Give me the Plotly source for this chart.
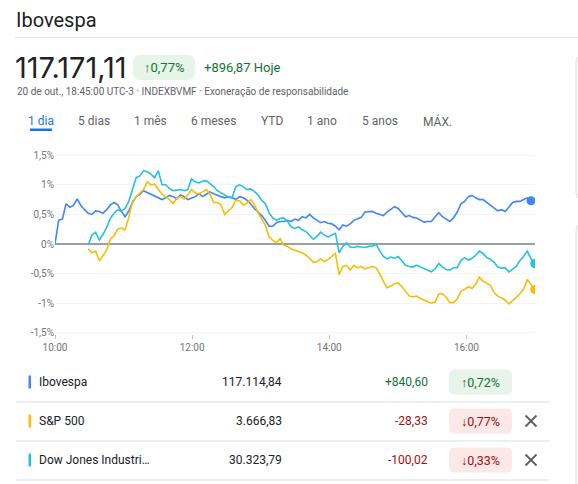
import pandas as pd
import plotly.graph_objects as go

# intraday % change, 20 Oct 2020 (about every 3 min)
times = pd.date_range("2020-10-20 10:00", "2020-10-20 16:59:45", periods=131)

ibov = [0.00, 0.40, 0.42, 0.68, 0.62, 0.65, 0.76, 0.65, 0.58, 0.52,
        0.50, 0.56, 0.55, 0.52, 0.58, 0.66, 0.70, 0.66, 0.55, 0.46,
        0.56, 0.70, 0.80, 0.84, 0.90, 0.87, 0.84, 0.80, 0.78, 0.75,
        0.78, 0.82, 0.80, 0.76, 0.83, 0.80, 0.75, 0.78, 0.80, 0.85,
        0.80, 0.84, 0.88, 0.85, 0.82, 0.80, 0.78, 0.80, 0.78, 0.75,
        0.80, 0.78, 0.74, 0.68, 0.60, 0.54, 0.48, 0.40, 0.30, 0.30,
        0.36, 0.38, 0.38, 0.40, 0.38, 0.42, 0.40, 0.46, 0.44, 0.50,
        0.44, 0.40, 0.36, 0.38, 0.35, 0.34, 0.30, 0.24, 0.32, 0.30,
        0.34, 0.40, 0.42, 0.45, 0.54, 0.54, 0.55, 0.52, 0.50, 0.48,
        0.54, 0.58, 0.63, 0.60, 0.52, 0.46, 0.48, 0.45, 0.44, 0.41,
        0.37, 0.38, 0.38, 0.46, 0.53, 0.46, 0.42, 0.38, 0.44, 0.54,
        0.68, 0.72, 0.80, 0.82, 0.78, 0.75, 0.75, 0.70, 0.66, 0.60,
        0.56, 0.58, 0.55, 0.62, 0.70, 0.72, 0.72, 0.75, 0.78, 0.73]

# US indices start at 10:30 local time
us_start = 9

sp500 = [-0.08, -0.15, -0.12, -0.28, -0.20, -0.10, 0.08, 0.14, 0.25, 0.27,
         0.24, 0.45, 0.72, 0.80, 0.86, 0.92, 1.05, 1.00, 1.01, 0.92,
         0.84, 0.80, 0.75, 0.68, 0.77, 0.80, 0.76, 0.83, 0.92, 0.86,
         0.85, 0.88, 0.92, 0.84, 0.70, 0.70, 0.66, 0.50, 0.56, 0.62,
         0.74, 0.73, 0.66, 0.69, 0.75, 0.67, 0.53, 0.42, 0.32, 0.12,
         0.06, 0.02, 0.09, -0.02, -0.04, -0.08, -0.10, -0.12, -0.15, -0.19,
         -0.24, -0.31, -0.30, -0.25, -0.30, -0.26, -0.21, -0.16, -0.52, -0.38,
         -0.36, -0.44, -0.36, -0.40, -0.38, -0.42, -0.40, -0.38, -0.40, -0.50,
         -0.63, -0.74, -0.71, -0.67, -0.66, -0.72, -0.80, -0.88, -0.89, -0.88,
         -0.92, -0.95, -0.98, -1.00, -0.98, -0.84, -0.84, -0.90, -0.99, -0.99,
         -0.93, -0.80, -0.77, -0.72, -0.75, -0.68, -0.56, -0.63, -0.66, -0.70,
         -0.82, -0.88, -0.91, -0.95, -1.01, -0.96, -0.90, -0.84, -0.76, -0.60,
         -0.68, -0.77]

dow = [-0.02, 0.15, 0.20, 0.07, 0.16, 0.28, 0.43, 0.52, 0.58, 0.55,
       0.60, 0.72, 0.92, 1.12, 1.15, 1.24, 1.22, 1.18, 1.12, 1.24,
       1.00, 1.00, 0.94, 0.90, 0.91, 0.92, 0.90, 0.92, 1.10, 1.05,
       1.03, 1.06, 1.07, 1.02, 0.97, 0.90, 0.86, 0.83, 0.79, 0.78,
       0.97, 1.00, 0.97, 0.92, 0.93, 0.89, 0.83, 0.74, 0.68, 0.53,
       0.44, 0.40, 0.43, 0.44, 0.38, 0.29, 0.26, 0.29, 0.24, 0.21,
       0.14, 0.08, 0.13, 0.20, 0.15, 0.12, 0.15, 0.18, -0.15, -0.04,
       0.02, -0.05, -0.06, -0.04, -0.05, -0.06, -0.04, -0.04, 0.00, -0.12,
       -0.21, -0.25, -0.22, -0.24, -0.21, -0.29, -0.36, -0.38, -0.39, -0.36,
       -0.39, -0.42, -0.44, -0.47, -0.42, -0.33, -0.39, -0.43, -0.44, -0.40,
       -0.40, -0.28, -0.23, -0.27, -0.24, -0.19, -0.12, -0.16, -0.23, -0.26,
       -0.31, -0.39, -0.41, -0.40, -0.47, -0.43, -0.38, -0.28, -0.21, -0.12,
       -0.25, -0.33]

y_ticks = [-1.5, -1, -0.5, 0, 0.5, 1, 1.5]
y_labels = ["-1,5%", "-1%", "-0,5%", "0%", "0,5%", "1%", "1,5%"]

periods = ["1 dia", "5 dias", "1 mês", "6 meses", "YTD", "1 ano", "5 anos", "MÁX."]

names = ["Ibovespa", "S&P 500", "Dow Jones Industri…"]
prices = ["117.114,84", "3.666,83", "30.323,79"]
changes = ["+840,60", "-28,33", "-100,02"]
pcts = ["↑0,72%", "↓0,77%", "↓0,33%"]
colors = ["#4285f4", "#fbbc04", "#24c1e0"]

W, H = 578, 484
ML, MR, MT, MB = 55, 43, 154, 150
PW, PH = W - ML - MR, H - MT - MB
FONT = "Roboto, Arial, sans-serif"
GREEN, GREEN_BG = "#137333", "#e6f4ea"
RED, RED_BG = "#a50e0e", "#fce8e6"
GREY = "#5f6368"


def xp(px):
    return (px - ML) / PW


def yp(py):
    return (MT + PH - py) / PH


def rrect(x0, y0, x1, y1, r):
    pts = [("M", x0 + r, y0), ("L", x1 - r, y0), ("Q", x1, y0, x1, y0 + r),
           ("L", x1, y1 - r), ("Q", x1, y1, x1 - r, y1), ("L", x0 + r, y1),
           ("Q", x0, y1, x0, y1 - r), ("L", x0, y0 + r), ("Q", x0, y0, x0 + r, y0)]
    out = ""
    for p in pts:
        cmd, c = p[0], p[1:]
        coords = " ".join(f"{xp(c[i]):.5f},{yp(c[i + 1]):.5f}" for i in range(0, len(c), 2))
        out += f"{cmd} {coords} "
    return out + "Z"


series = [
    ibov + [None] * (len(times) - len(ibov)),
    [None] * us_start + sp500,
    [None] * us_start + dow,
]

fig = go.Figure()
for vals, col in zip(series, colors):
    fig.add_trace(go.Scatter(x=times, y=vals, mode="lines",
                             line=dict(color=col, width=1.6), hoverinfo="skip"))
for vals, col in zip(series, colors):
    last = max(i for i, v in enumerate(vals) if v is not None)
    fig.add_trace(go.Scatter(x=[times[last]], y=[vals[last]], mode="markers",
                             marker=dict(color=col, size=9), hoverinfo="skip"))

shapes = []
ann = []


def text(x, y, s, size, color, anchor="left", family=FONT):
    ann.append(dict(x=xp(x), y=yp(y), xref="paper", yref="paper", text=s,
                    showarrow=False, xanchor=anchor, yanchor="middle",
                    font=dict(family=family, size=size, color=color)))


def line(x0, y0, x1, y1, color, width=1):
    shapes.append(dict(type="line", xref="paper", yref="paper",
                       x0=xp(x0), y0=yp(y0), x1=xp(x1), y1=yp(y1),
                       line=dict(color=color, width=width)))


# header
text(14, 20, "Ibovespa", 20, "#202124")
line(15, 37.5, 578, 37.5, "#e3e3e3")
text(13, 68, "117.171,11", 29, "#202124", family="Inter, Roboto")
shapes.append(dict(type="path", xref="paper", yref="paper", path=rrect(133, 55, 195, 80, 7),
                   fillcolor=GREEN_BG, line=dict(width=0)))
text(164, 68, "↑0,77%", 13, GREEN, "center")
text(202, 67.5, "+896,87 Hoje", 13, GREEN)
text(15, 92, "20 de out., 18:45:00 UTC-3 · INDEXBVMF · Exoneração de responsabilidade", 10, GREY)

tab_x = [41, 94, 150, 213, 272, 322, 380, 437]
for i, (lab, cx) in enumerate(zip(periods, tab_x)):
    text(cx, 121, lab, 12, "#1a73e8" if i == 0 else GREY, "center")
shapes.append(dict(type="rect", xref="paper", yref="paper",
                   x0=xp(30), x1=xp(52), y0=yp(131), y1=yp(128.5),
                   fillcolor="#1a73e8", line=dict(width=0)))

# side cards peeking at the right edge
for y0, y1 in [(55, 200), (223, 520)]:
    shapes.append(dict(type="path", xref="paper", yref="paper", path=rrect(576, y0, 640, y1, 8),
                       line=dict(color="#dadce0", width=1)))

# comparison table
row_y = [382, 421, 460]
for i, ry in enumerate(row_y):
    up = changes[i].startswith("+")
    shapes.append(dict(type="rect", xref="paper", yref="paper",
                       x0=xp(28.5), x1=xp(31), y0=yp(ry + 6.5), y1=yp(ry - 6.5),
                       fillcolor=colors[i], line=dict(width=0)))
    text(37, ry, names[i], 12, "#202124")
    text(284, ry, prices[i], 12, "#202124", "right")
    text(430, ry, changes[i], 12, GREEN if up else RED, "right")
    shapes.append(dict(type="path", xref="paper", yref="paper",
                       path=rrect(449, ry - 12.5, 512, ry + 12.5, 6),
                       fillcolor=GREEN_BG if up else RED_BG, line=dict(width=0)))
    text(480.5, ry, pcts[i], 12.5, GREEN if up else RED, "center")
    if i > 0:
        line(525.5, ry - 5.5, 536.5, ry + 5.5, GREY, 2)
        line(525.5, ry + 5.5, 536.5, ry - 5.5, GREY, 2)
    line(16, ry + 20, 549, ry + 20, "#dadce0")

fig.update_layout(
    width=W, height=H,
    margin=dict(l=ML, r=MR, t=MT, b=MB),
    paper_bgcolor="white", plot_bgcolor="white",
    showlegend=False,
    font=dict(family=FONT, size=10, color="#70757a"),
    shapes=shapes, annotations=ann,
)
fig.update_xaxes(
    range=["2020-10-20 10:00", "2020-10-20 17:00"],
    tickformat="%H:%M", dtick=2 * 3600 * 1000, tick0="2020-10-20 10:00",
    showgrid=False, ticks="outside", ticklen=4, tickcolor="#bdc1c6",
    showline=False, zeroline=False, fixedrange=True,
    tickfont=dict(size=10, color="#70757a"),
)
fig.update_yaxes(
    range=[-1.52, 1.52], tickvals=y_ticks, ticktext=y_labels,
    showgrid=True, gridcolor="#f1f3f4", gridwidth=1,
    zeroline=True, zerolinecolor="#9aa0a6", zerolinewidth=1.5,
    showline=False, ticks="", fixedrange=True,
    tickfont=dict(size=10, color="#70757a"),
)

fig.write_html("out.html", config={"displayModeBar": False},
               post_script="document.body.style.margin='0';")
